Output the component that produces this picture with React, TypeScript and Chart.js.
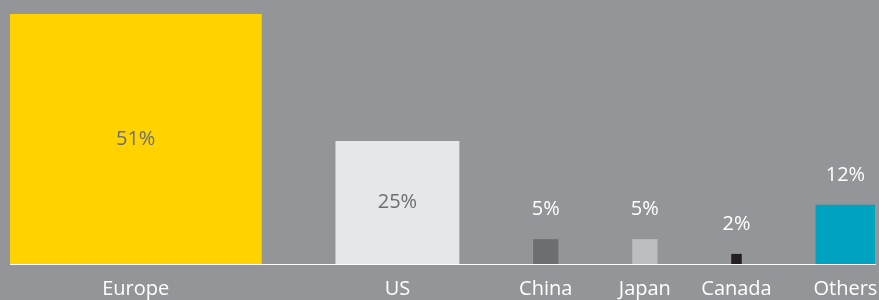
import React, { useEffect, useRef } from "react";
import { Chart, registerables } from "chart.js";

Chart.register(...registerables);

const categories = ["Europe", "US", "China", "Japan", "Canada", "Others"];
const shares = [51, 25, 5, 5, 2, 12];
const barColors = ["#FFD200", "#E6E7E8", "#6D6E71", "#BCBEC0", "#231F20", "#00A3BF"];
const GAP = 15.1; // gap between squares, in share units

const BG = "#939598";
const FONT = "'Open Sans', sans-serif";

const centers: number[] = [];
{
  let acc = 0;
  shares.forEach((v) => {
    centers.push(acc + v / 2);
    acc += v + GAP;
  });
}
const total = shares.reduce((a, b) => a + b, 0) + GAP * (shares.length - 1);

const bgPlugin = {
  id: "bg",
  beforeDraw(chart: any) {
    const { ctx, width, height } = chart;
    ctx.save();
    ctx.fillStyle = BG;
    ctx.fillRect(0, 0, width, height);
    ctx.restore();
  },
};

const valueLabels = {
  id: "valueLabels",
  afterDatasetsDraw(chart: any) {
    const ctx = chart.ctx;
    ctx.save();
    ctx.font = `20px ${FONT}`;
    ctx.textAlign = "center";
    ctx.textBaseline = "middle";
    chart.data.datasets.forEach((_ds: any, i: number) => {
      const el: any = chart.getDatasetMeta(i).data[0];
      if (!el) return;
      const h = el.base - el.y;
      const text = shares[i] + "%";
      if (h > 60) {
        ctx.fillStyle = "#6D6E71";
        ctx.fillText(text, el.x, (el.y + el.base) / 2);
      } else {
        ctx.fillStyle = "#FFFFFF";
        ctx.fillText(text, el.x, el.y - 30);
      }
    });
    ctx.restore();
  },
};

export default function App() {
  const ref = useRef<HTMLCanvasElement | null>(null);

  useEffect(() => {
    document.body.style.margin = "0";
    document.body.style.background = BG;
    if (!ref.current) return;
    const chart = new Chart(ref.current, {
      type: "bar",
      data: {
        datasets: categories.map((c, i) => ({
          label: c,
          data: [{ x: centers[i], y: shares[i] }],
          backgroundColor: barColors[i],
          borderWidth: 0,
          barThickness: 10,
          stack: "all",
        })),
      } as any,
      options: {
        animation: false,
        responsive: false,
        layout: { padding: { left: 10, right: 4, top: 14, bottom: 0 } },
        plugins: { legend: { display: false }, tooltip: { enabled: false } },
        scales: {
          x: {
            type: "linear",
            min: 0,
            max: total,
            offset: false,
            grid: { display: false, drawTicks: false, offset: false },
            border: { display: true, color: "#FFFFFF", width: 1 },
            afterBuildTicks: (scale: any) => {
              scale.ticks = centers.map((v) => ({ value: v }));
            },
            afterFit: (scale: any) => {
              scale.height = 36;
              scale.paddingLeft = 0;
              scale.paddingRight = 0;
            },
            ticks: {
              autoSkip: false,
              maxRotation: 0,
              minRotation: 0,
              padding: 13,
              color: "#FFFFFF",
              font: { family: FONT, size: 20 },
              callback: (_v: any, i: number) => categories[i],
            },
          },
          y: {
            display: false,
            stacked: false,
            min: 0,
            max: Math.max(...shares),
          },
        },
      } as any,
      plugins: [bgPlugin, valueLabels],
    });
    const sx: any = chart.scales.x;
    const ppu = sx.getPixelForValue(1) - sx.getPixelForValue(0);
    chart.data.datasets.forEach((ds: any, i: number) => {
      ds.barThickness = shares[i] * ppu;
    });
    chart.update();
    return () => chart.destroy();
  }, []);

  return (
    <div style={{ width: 879, height: 300 }}>
      <canvas ref={ref} width={879} height={300} style={{ display: "block" }} />
    </div>
  );
}
